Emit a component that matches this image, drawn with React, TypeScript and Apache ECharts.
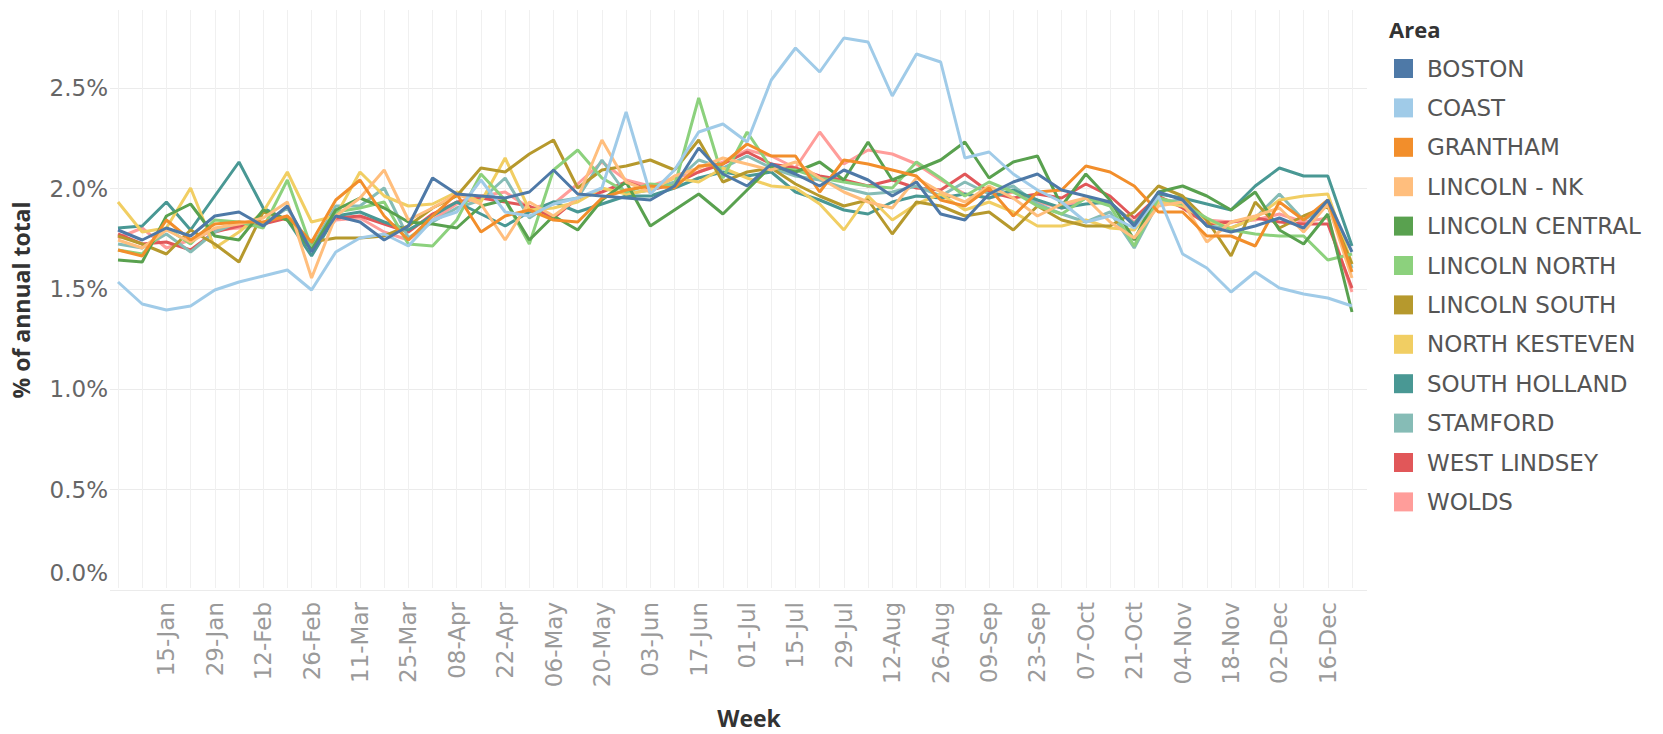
import React, { useEffect, useRef } from 'react';
import * as echarts from 'echarts';

const weeks = [
  '01-Jan', '08-Jan', '15-Jan', '22-Jan', '29-Jan', '05-Feb', '12-Feb', '19-Feb', '26-Feb',
  '04-Mar', '11-Mar', '18-Mar', '25-Mar', '01-Apr', '08-Apr', '15-Apr', '22-Apr', '29-Apr',
  '06-May', '13-May', '20-May', '27-May', '03-Jun', '10-Jun', '17-Jun', '24-Jun', '01-Jul',
  '08-Jul', '15-Jul', '22-Jul', '29-Jul', '05-Aug', '12-Aug', '19-Aug', '26-Aug', '02-Sep',
  '09-Sep', '16-Sep', '23-Sep', '30-Sep', '07-Oct', '14-Oct', '21-Oct', '28-Oct', '04-Nov',
  '11-Nov', '18-Nov', '25-Nov', '02-Dec', '09-Dec', '16-Dec', '23-Dec',
];

const areas = [
  'BOSTON', 'COAST', 'GRANTHAM', 'LINCOLN - NK', 'LINCOLN CENTRAL', 'LINCOLN NORTH',
  'LINCOLN SOUTH', 'NORTH KESTEVEN', 'SOUTH HOLLAND', 'STAMFORD', 'WEST LINDSEY', 'WOLDS',
];

const areaColors = [
  '#4E79A7', '#A0CBE8', '#F28E2B', '#FFBE7D', '#59A14F', '#8CD17D',
  '#B6992D', '#F1CE63', '#499894', '#86BCB6', '#E15759', '#FF9D9A',
];

const yTicks = [0, 0.5, 1, 1.5, 2, 2.5];

const boston = [
  1.79, 1.74, 1.80, 1.76, 1.86, 1.88, 1.81, 1.91, 1.68, 1.86,
  1.83, 1.74, 1.81, 2.05, 1.97, 1.96, 1.95, 1.98, 2.09, 1.97,
  1.96, 1.95, 1.94, 2.01, 2.20, 2.07, 2.01, 2.12, 2.07, 2.01,
  2.09, 2.04, 1.96, 2.03, 1.87, 1.84, 1.97, 2.03, 2.07, 1.99,
  1.96, 1.93, 1.81, 1.98, 1.94, 1.81, 1.78, 1.81, 1.85, 1.80,
  1.94, 1.68,
];
const coast = [
  1.53, 1.42, 1.39, 1.41, 1.49, 1.53, 1.56, 1.59, 1.49, 1.68,
  1.75, 1.77, 1.71, 1.84, 1.88, 2.04, 1.88, 1.86, 1.92, 1.95,
  2.00, 2.38, 1.97, 2.09, 2.28, 2.32, 2.23, 2.54, 2.70, 2.58,
  2.75, 2.73, 2.46, 2.67, 2.63, 2.15, 2.18, 2.07, 1.99, 1.93,
  1.83, 1.86, 1.80, 1.96, 1.67, 1.60, 1.48, 1.58, 1.50, 1.47,
  1.45, 1.41,
];
const grantham = [
  1.69, 1.66, 1.84, 1.74, 1.82, 1.83, 1.83, 1.86, 1.73, 1.94,
  2.04, 1.86, 1.74, 1.86, 1.97, 1.78, 1.86, 1.89, 1.84, 1.83,
  1.95, 1.99, 2.01, 2.00, 2.11, 2.12, 2.22, 2.16, 2.16, 1.98,
  2.14, 2.12, 2.09, 2.06, 1.94, 1.91, 2.00, 1.86, 1.98, 1.99,
  2.11, 2.08, 2.01, 1.88, 1.88, 1.76, 1.76, 1.71, 1.93, 1.84,
  1.94, 1.58,
];
const lincolnNk = [
  1.74, 1.70, 1.79, 1.73, 1.80, 1.82, 1.85, 1.93, 1.55, 1.86,
  1.95, 2.09, 1.84, 1.90, 1.97, 1.92, 1.74, 1.93, 1.86, 1.95,
  2.24, 2.03, 1.98, 2.06, 2.10, 2.15, 2.12, 2.09, 2.13, 2.05,
  1.98, 1.93, 1.90, 2.05, 1.98, 1.93, 2.01, 1.95, 1.86, 1.92,
  1.95, 1.83, 1.75, 1.91, 1.93, 1.73, 1.83, 1.86, 1.90, 1.78,
  1.92, 1.55,
];
const lincolnCentral = [
  1.64, 1.63, 1.86, 1.92, 1.76, 1.74, 1.89, 1.84, 1.69, 1.89,
  1.95, 1.90, 1.83, 1.82, 1.80, 1.91, 1.94, 1.74, 1.86, 1.79,
  1.94, 2.03, 1.81, 1.89, 1.97, 1.87, 1.99, 2.11, 2.08, 2.13,
  2.04, 2.23, 2.04, 2.09, 2.14, 2.23, 2.05, 2.13, 2.16, 1.91,
  2.07, 1.94, 1.74, 1.98, 2.01, 1.96, 1.89, 1.98, 1.79, 1.72,
  1.87, 1.38,
];
const lincolnNorth = [
  1.69, 1.67, 1.80, 1.72, 1.84, 1.83, 1.80, 2.04, 1.70, 1.88,
  1.90, 1.93, 1.72, 1.71, 1.84, 2.07, 1.94, 1.72, 2.09, 2.19,
  2.05, 1.98, 2.02, 2.01, 2.45, 2.05, 2.28, 2.10, 2.09, 2.05,
  2.03, 2.01, 2.00, 2.13, 2.05, 1.96, 2.03, 1.98, 1.91, 1.87,
  1.95, 1.91, 1.71, 1.95, 1.92, 1.85, 1.79, 1.77, 1.76, 1.76,
  1.64, 1.67,
];
const lincolnSouth = [
  1.76, 1.72, 1.67, 1.79, 1.72, 1.63, 1.88, 1.84, 1.73, 1.75,
  1.75, 1.76, 1.81, 1.90, 1.96, 2.10, 2.08, 2.17, 2.24, 2.00,
  2.09, 2.11, 2.14, 2.09, 2.24, 2.03, 2.08, 2.10, 2.02, 1.96,
  1.91, 1.94, 1.77, 1.93, 1.91, 1.86, 1.88, 1.79, 1.91, 1.84,
  1.81, 1.81, 1.88, 2.01, 1.96, 1.84, 1.66, 1.93, 1.80, 1.86,
  1.91, 1.62,
];
const northKesteven = [
  1.93, 1.78, 1.80, 2.00, 1.70, 1.78, 1.88, 2.08, 1.83, 1.86,
  2.08, 1.96, 1.91, 1.92, 1.98, 1.93, 2.15, 1.89, 1.90, 1.93,
  2.00, 1.97, 1.99, 2.05, 2.03, 2.10, 2.05, 2.01, 2.00, 1.92,
  1.79, 1.96, 1.84, 1.92, 1.97, 1.89, 1.93, 1.88, 1.81, 1.81,
  1.84, 1.80, 1.79, 1.93, 1.91, 1.84, 1.80, 1.85, 1.94, 1.96,
  1.97, 1.62,
];
const southHolland = [
  1.80, 1.81, 1.93, 1.79, 1.96, 2.13, 1.90, 1.84, 1.66, 1.86,
  1.88, 1.83, 1.79, 1.86, 1.93, 1.87, 1.81, 1.88, 1.93, 1.88,
  1.92, 1.96, 1.96, 2.00, 2.05, 2.08, 2.06, 2.08, 1.98, 1.94,
  1.89, 1.87, 1.93, 1.96, 1.95, 1.97, 1.95, 1.99, 1.94, 1.90,
  1.92, 1.93, 1.82, 1.97, 1.95, 1.92, 1.89, 2.01, 2.10, 2.06,
  2.06, 1.71,
];
const stamford = [
  1.72, 1.70, 1.77, 1.68, 1.78, 1.83, 1.82, 1.90, 1.70, 1.91,
  1.91, 2.00, 1.75, 1.83, 1.90, 1.94, 2.05, 1.85, 1.93, 1.95,
  2.14, 1.97, 1.99, 2.03, 2.14, 2.10, 2.16, 2.10, 2.06, 2.04,
  2.00, 1.97, 1.98, 2.01, 1.96, 2.03, 1.97, 2.01, 1.92, 1.87,
  1.83, 1.88, 1.70, 1.93, 1.94, 1.81, 1.80, 1.85, 1.97, 1.84,
  1.91, 1.60,
];
const westLindsey = [
  1.77, 1.72, 1.73, 1.69, 1.78, 1.81, 1.82, 1.85, 1.72, 1.85,
  1.86, 1.82, 1.78, 1.87, 1.93, 1.95, 1.93, 1.91, 1.85, 1.95,
  1.98, 2.03, 1.99, 2.02, 2.08, 2.12, 2.18, 2.12, 2.10, 2.06,
  2.04, 2.01, 2.04, 2.00, 1.99, 2.07, 1.98, 1.95, 1.97, 1.95,
  2.02, 1.96, 1.85, 1.96, 1.90, 1.82, 1.83, 1.85, 1.83, 1.82,
  1.82, 1.50,
];
const wolds = [
  1.75, 1.80, 1.70, 1.74, 1.79, 1.80, 1.82, 1.86, 1.71, 1.84,
  1.85, 1.78, 1.74, 1.84, 1.92, 1.96, 1.98, 1.90, 1.92, 2.02,
  2.13, 2.04, 2.01, 2.05, 2.08, 2.13, 2.19, 2.16, 2.10, 2.28,
  2.12, 2.19, 2.17, 2.12, 2.04, 1.97, 1.95, 1.98, 1.93, 1.90,
  1.95, 1.92, 1.83, 1.95, 1.92, 1.84, 1.83, 1.84, 1.87, 1.83,
  1.85, 1.48,
];

const seriesValues = [
  boston, coast, grantham, lincolnNk, lincolnCentral, lincolnNorth,
  lincolnSouth, northKesteven, southHolland, stamford, westLindsey, wolds,
];

const LABEL_FONT = '"DejaVu Sans", "Noto Sans", sans-serif';
const TITLE_FONT = '"Open Sans", "Noto Sans", sans-serif';
const Y_MAX = 2.89;

export default function App() {
  const ref = useRef<HTMLDivElement>(null);

  useEffect(() => {
    document.body.style.margin = '0';
    const chart = echarts.init(ref.current!, undefined, { renderer: 'svg' });
    chart.setOption({
      animation: false,
      backgroundColor: '#ffffff',
      textStyle: { fontFamily: LABEL_FONT },
      title: {
        text: 'Area',
        left: 1389,
        top: 15,
        padding: 0,
        textStyle: { fontFamily: TITLE_FONT, fontSize: 22, fontWeight: 'bold', color: '#333333', lineHeight: 28 },
      },
      legend: {
        orient: 'vertical',
        left: 1394,
        top: 57,
        padding: 0,
        icon: 'rect',
        itemWidth: 19,
        itemHeight: 19,
        itemGap: 16.4,
        selectedMode: false,
        data: areas,
        textStyle: {
          fontFamily: LABEL_FONT,
          fontSize: 23,
          color: '#555555',
          lineHeight: 22,
          padding: [0, 0, 0, 9],
        },
      },
      grid: [
        { left: 118, right: 311, top: 10, bottom: 144, containLabel: false },
        { left: 110, right: 296, top: 10, bottom: 144, containLabel: false },
      ],
      xAxis: [
        {
          type: 'category',
          gridIndex: 0,
          data: weeks,
          boundaryGap: false,
          name: 'Week',
          nameLocation: 'middle',
          nameGap: 118,
          nameTextStyle: {
            fontFamily: TITLE_FONT, fontSize: 23, fontWeight: 'bold', color: '#333333', padding: [0, 0, 0, 28],
          },
          axisLine: { show: false },
          axisTick: { show: false },
          axisLabel: {
            rotate: 90,
            margin: 14,
            interval: (idx: number) => idx > 0 && idx % 2 === 0,
            color: '#9a9a9a',
            fontSize: 23,
            fontFamily: LABEL_FONT,
          },
          splitLine: { show: true, interval: 0, lineStyle: { color: '#f0f0f0', width: 1 } },
        },
        {
          type: 'value',
          gridIndex: 1,
          min: 0,
          max: 1,
          show: false,
          splitLine: { show: false },
        },
      ],
      yAxis: [
        {
          type: 'value',
          gridIndex: 0,
          min: 0,
          max: Y_MAX,
          interval: 0.5,
          axisLine: { show: false },
          axisTick: { show: false },
          axisLabel: { show: false },
          splitLine: { show: false },
        },
        {
          type: 'value',
          gridIndex: 1,
          min: 0,
          max: Y_MAX,
          interval: 0.5,
          name: '% of annual total',
          nameLocation: 'middle',
          nameRotate: 90,
          nameGap: 78,
          nameTextStyle: { fontFamily: TITLE_FONT, fontSize: 23, fontWeight: 'bold', color: '#333333' },
          axisLine: { show: false },
          axisTick: { show: false },
          axisLabel: {
            margin: 2,
            color: '#666666',
            fontSize: 23,
            fontFamily: LABEL_FONT,
            showMaxLabel: false,
            formatter: (v: number) => {
              if (!yTicks.includes(Math.round(v * 10) / 10)) return '';
              const t = v.toFixed(1) + '%';
              return v === 0 ? '{b|' + t + '}' : t;
            },
            rich: {
              b: { padding: [0, 0, 34, 0], fontSize: 23, color: '#666666', fontFamily: LABEL_FONT },
            },
          },
          splitLine: { show: true, showMaxLine: false, lineStyle: { color: '#ebebeb', width: 1 } },
        },
      ],
      series: areas.map((name, i) => ({
        name,
        type: 'line',
        xAxisIndex: 0,
        yAxisIndex: 0,
        data: seriesValues[i],
        symbol: 'none',
        smooth: false,
        z: 20 - i,
        color: areaColors[i],
        lineStyle: { width: 3, color: areaColors[i] },
        emphasis: { disabled: true },
      })),
    });
    return () => chart.dispose();
  }, []);

  return <div ref={ref} style={{ width: 1663, height: 734, background: '#ffffff' }} />;
}
